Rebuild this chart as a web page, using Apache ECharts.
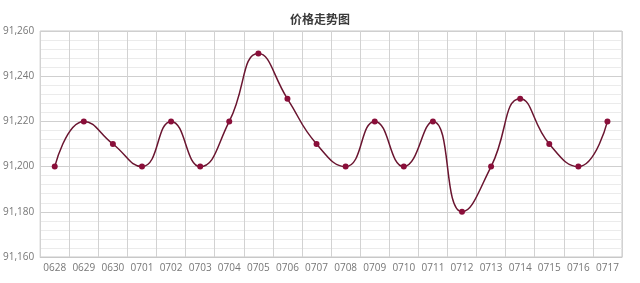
<!DOCTYPE html>
<html><head><meta charset="utf-8">
<script src="https://cdn.jsdelivr.net/npm/echarts@6/dist/echarts.min.js"></script>
<style>html,body{margin:0;padding:0;background:#fff}#c{width:640px;height:283px}</style>
</head><body><div id="c"></div>
<script>
const categories = ['0628','0629','0630','0701','0702','0703','0704','0705','0706','0707','0708','0709','0710','0711','0712','0713','0714','0715','0716','0717'];
const prices = [91200,91220,91210,91200,91220,91200,91220,91250,91230,91210,91200,91220,91200,91220,91180,91200,91230,91210,91200,91220];
const title = '价格走势图';
const chart = echarts.init(document.getElementById('c'));
chart.setOption({
  animation: false,
  backgroundColor: '#fff',
  title: { text: title, left: 'center', top: 8, textStyle: { fontSize: 12, fontWeight: 'bold', color: '#3a3a3a', fontFamily: 'Noto Sans CJK SC' } },
  grid: { left: 37, right: 18, top: 31, bottom: 26, show: true, borderColor: '#c8c8c8', borderWidth: 1 },
  xAxis: {
    type: 'category', data: categories, boundaryGap: true,
    axisLine: { show: true, lineStyle: { color: '#c8c8c8' } },
    axisTick: { show: false },
    axisLabel: { interval: 0, color: '#777', fontSize: 10, margin: 6, fontFamily: 'Open Sans' },
    splitLine: { show: true, lineStyle: { color: '#d2d2d2' } }
  },
  yAxis: {
    type: 'value', min: 91160, max: 91260, interval: 20,
    axisLine: { show: false }, axisTick: { show: false },
    axisLabel: { color: '#777', fontSize: 10, margin: 6, fontFamily: 'Open Sans', formatter: v => v.toLocaleString('en-US') },
    splitLine: { show: true, lineStyle: { color: '#cfcfcf' } },
    minorTick: { show: false, splitNumber: 5 },
    minorSplitLine: { show: true, lineStyle: { color: '#ebebeb' } }
  },
  series: [{
    type: 'line', data: prices, smooth: 0.5,
    symbol: 'circle', symbolSize: 6,
    lineStyle: { color: '#6a1530', width: 1.5 },
    itemStyle: { color: '#8a0f3a' }
  }]
});
</script></body></html>
